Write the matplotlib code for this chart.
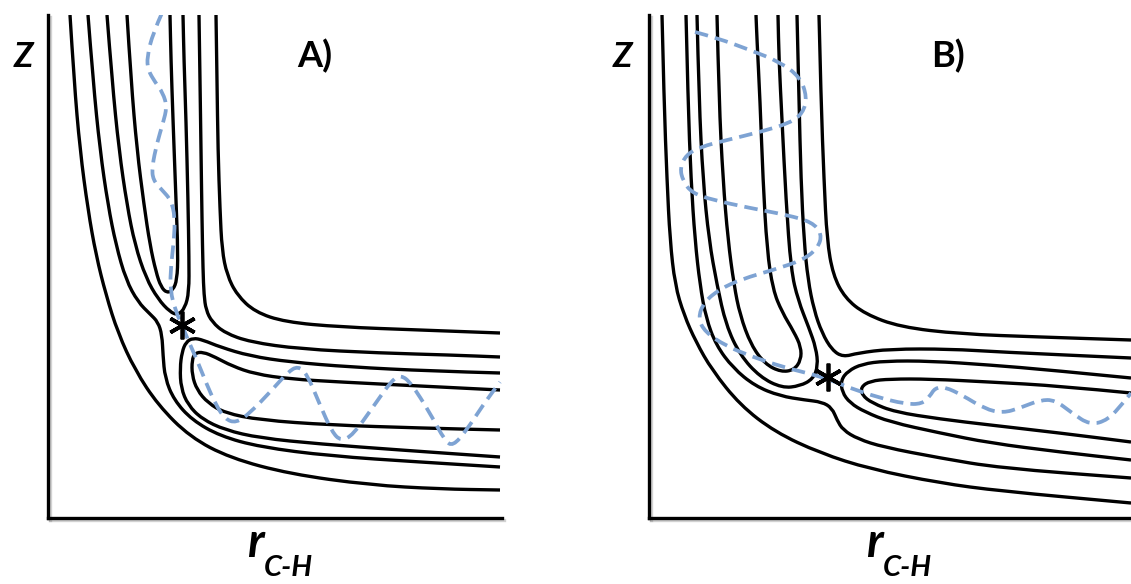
import matplotlib
matplotlib.use('Agg')
import matplotlib.pyplot as plt
import matplotlib.patheffects as pe
from matplotlib.path import Path
from matplotlib.patches import PathPatch

# contour traces (x to the right, y downwards)
# panel A: early barrier
a_outer = [(70, 15), (74, 80), (80, 150), (88, 210), (96, 255), (106, 295), (118, 333),
           (135, 370), (158, 405), (190, 437), (230, 458), (290, 474), (370, 485),
           (440, 489), (500, 490)]
a_kink_low = [(88, 15), (93, 80), (100, 150), (108, 205), (116, 245), (126, 280), (138, 302),
              (150, 314), (158, 322), (162, 335), (163, 355), (165, 378), (174, 400),
              (192, 420), (220, 436), (260, 447), (330, 456), (420, 462), (500, 467)]
a_react_u2 = [(107, 15), (112, 80), (119, 150), (127, 205), (135, 245), (146, 278),
              (158, 299), (170, 312), (178, 315), (185, 308), (189, 292), (189, 260),
              (188, 200), (186, 120), (184, 60), (183, 15)]
a_react_u1 = [(127, 15), (131, 80), (137, 150), (144, 205), (150, 245), (156, 272),
              (161, 287), (167, 293), (173, 290), (177, 280), (178, 255), (176, 200),
              (173, 120), (171, 60), (170, 15)]
a_kink_high = [(199, 15), (200, 80), (201, 150), (202, 220), (203, 270), (204, 295),
               (206, 310), (212, 322), (225, 333), (250, 342), (300, 349), (380, 353),
               (450, 355), (500, 357)]
a_upper = [(216, 15), (217, 80), (218, 150), (220, 210), (222, 250), (227, 275), (237, 295),
           (255, 312), (285, 322), (340, 327), (420, 330), (500, 333)]
a_prod_u2 = [(500, 373), (430, 371), (350, 367), (290, 362), (250, 356), (220, 347),
             (203, 340), (193, 338), (186, 342), (182, 352), (180, 368), (181, 388),
             (188, 405), (202, 419), (225, 430), (260, 438), (320, 444), (400, 450),
             (500, 457)]
a_prod_u1 = [(500, 390), (420, 386), (340, 382), (290, 379), (255, 374), (232, 366),
             (215, 357), (203, 352), (195, 353), (192, 360), (192, 375), (197, 390),
             (208, 403), (225, 413), (260, 420), (330, 425), (420, 428), (500, 430)]
a_traj = [(162, 13), (153, 33), (147, 57), (148, 70), (155, 82), (163, 93), (167, 107),
          (163, 123), (157, 143), (152, 167), (153, 180), (162, 190), (171, 200),
          (175, 217), (174, 240), (171, 265), (170, 290), (176, 312), (182, 325),
          (188, 340), (197, 360), (207, 385), (216, 405), (225, 419), (236, 423),
          (250, 413), (272, 390), (288, 372), (298, 366), (307, 374), (320, 405),
          (332, 432), (341, 441), (353, 435), (373, 407), (392, 380), (401, 375),
          (411, 383), (430, 413), (445, 441), (453, 446), (466, 431), (483, 405),
          (500, 382)]
a_saddle = (182, 325)

# panel B: late barrier
b_outer = [(662, 15), (664, 100), (667, 180), (670, 240), (675, 285), (684, 315),
           (696, 342), (712, 370), (740, 405), (775, 432), (820, 453), (870, 469),
           (940, 483), (1000, 491), (1131, 503)]
b_kink_low = [(686, 15), (688, 100), (691, 180), (695, 240), (700, 285), (706, 318),
              (716, 345), (733, 368), (755, 386), (780, 396), (805, 400), (822, 402),
              (832, 408), (837, 420), (843, 430), (858, 439), (883, 447), (940, 458),
              (1000, 468), (1131, 478)]
b_react_u2 = [(697, 15), (699, 100), (703, 180), (709, 240), (717, 285), (726, 325),
              (740, 355), (760, 377), (782, 388), (800, 386), (813, 379), (818, 366),
              (816, 348), (809, 328), (798, 300), (791, 270), (786, 200), (782, 120),
              (779, 60), (778, 15)]
b_react_u1 = [(717, 15), (719, 100), (723, 180), (728, 240), (734, 285), (740, 315),
              (751, 345), (765, 364), (781, 372), (794, 370), (801, 360), (801, 347),
              (794, 332), (782, 312), (773, 290), (767, 250), (763, 180), (760, 100),
              (757, 40), (756, 15)]
b_kink_high = [(797, 15), (799, 100), (801, 180), (804, 240), (808, 280), (814, 310),
               (822, 333), (832, 350), (843, 357), (858, 353), (890, 349), (950, 349),
               (1000, 352), (1131, 358)]
b_upper = [(819, 15), (821, 100), (824, 180), (827, 240), (833, 275), (845, 298),
           (865, 314), (900, 327), (960, 334), (1040, 337), (1131, 340)]
b_prod_u2 = [(1131, 378), (1050, 370), (990, 365), (930, 361), (885, 361), (862, 364),
             (848, 371), (841, 380), (842, 392), (850, 403), (865, 412), (890, 422),
             (940, 433), (990, 443), (1060, 452), (1131, 460)]
b_prod_u1 = [(1131, 393), (1060, 386), (990, 382), (930, 379), (890, 379), (870, 381),
             (861, 387), (862, 395), (872, 403), (895, 412), (940, 419), (990, 425),
             (1060, 433), (1131, 442)]
b_traj = [(695, 32), (717, 38), (750, 50), (780, 62), (800, 77), (807, 97), (803, 113),
          (790, 123), (760, 132), (727, 140), (700, 147), (686, 155), (680, 168),
          (683, 181), (692, 193), (713, 200), (750, 208), (787, 215), (812, 222),
          (822, 234), (818, 248), (803, 260), (773, 270), (742, 279), (720, 289),
          (704, 302), (698, 318), (705, 332), (726, 346), (753, 357), (783, 367),
          (807, 373), (828, 379), (850, 388), (877, 397), (905, 404), (922, 404),
          (930, 396), (935, 388), (945, 387), (962, 395), (985, 409), (1003, 413),
          (1020, 408), (1040, 400), (1055, 400), (1072, 413), (1090, 425), (1108, 420),
          (1123, 403), (1131, 393)]
b_saddle = (828, 377)

a_contours = [a_outer, a_kink_low, a_react_u2, a_react_u1, a_kink_high, a_upper,
              a_prod_u2, a_prod_u1]
b_contours = [b_outer, b_kink_low, b_react_u2, b_react_u1, b_kink_high, b_upper,
              b_prod_u2, b_prod_u1]

W, H = 1131, 584
TRAJ_COLOR = '#7ea3d3'
FONT = 'Lato'


def smooth_path(pts):
    # quadratic bezier through the midpoints, the traced points act as controls
    verts = [pts[0]]
    codes = [Path.MOVETO]
    for i in range(1, len(pts) - 1):
        mid = ((pts[i][0] + pts[i + 1][0]) / 2, (pts[i][1] + pts[i + 1][1]) / 2)
        verts += [pts[i], mid]
        codes += [Path.CURVE3, Path.CURVE3]
    verts.append(pts[-1])
    codes.append(Path.LINETO)
    return Path(verts, codes)


def make_axes(fig, x0, x1, y0, y1):
    ax = fig.add_axes([x0 / W, 1 - y1 / H, (x1 - x0) / W, (y1 - y0) / H])
    ax.set_xlim(x0, x1)
    ax.set_ylim(y1, y0)
    ax.set_xticks([])
    ax.set_yticks([])
    for s in ['top', 'right']:
        ax.spines[s].set_visible(False)
    for s in ['left', 'bottom']:
        ax.spines[s].set_linewidth(2.4)
        ax.spines[s].set_path_effects([
            pe.SimpleLineShadow(offset=(1.2, -1.2), shadow_color='gray', alpha=0.35),
            pe.Normal()])
    ax.patch.set_alpha(0)
    return ax


def draw_panel(ax, contours, traj, saddle):
    for c in contours:
        ax.add_patch(PathPatch(smooth_path(c), fill=False, lw=2.4, ec='black',
                               capstyle='butt', joinstyle='round'))
    ax.add_patch(PathPatch(smooth_path(traj), fill=False, lw=2.7, ec=TRAJ_COLOR,
                           linestyle=(0, (3.6, 1.9)), capstyle='butt', zorder=3))
    ax.plot([saddle[0]], [saddle[1]], marker=(6, 2, 0), ms=20, mew=2.7,
            color='black', zorder=4, clip_on=False)


def labels(fig, z_x, tag, tag_x, r_x):
    fig.text(z_x / W, 1 - 67 / H, 'Z', fontsize=25, fontweight='bold', style='italic',
             family=FONT, ha='center', va='baseline')
    fig.text(tag_x / W, 1 - 67 / H, tag, fontsize=26, fontweight='bold',
             family=FONT, ha='left', va='baseline')
    fig.text(r_x / W, 1 - 557 / H, 'r', fontsize=34, fontweight='bold', style='italic',
             family=FONT, ha='left', va='baseline')
    fig.text((r_x + 17) / W, 1 - 576 / H, 'C-H', fontsize=21, fontweight='bold',
             style='italic', family=FONT, ha='left', va='baseline')


def main():
    fig = plt.figure(figsize=(W / 100, H / 100), dpi=100)
    ax_a = make_axes(fig, 48, 502, 15, 518)
    ax_b = make_axes(fig, 649, 1131, 15, 518)
    draw_panel(ax_a, a_contours, a_traj, a_saddle)
    draw_panel(ax_b, b_contours, b_traj, b_saddle)
    labels(fig, 23, 'A)', 297, 247)
    labels(fig, 622, 'B)', 931, 866)
    fig.savefig('out.png', dpi=100)


if __name__ == '__main__':
    main()
